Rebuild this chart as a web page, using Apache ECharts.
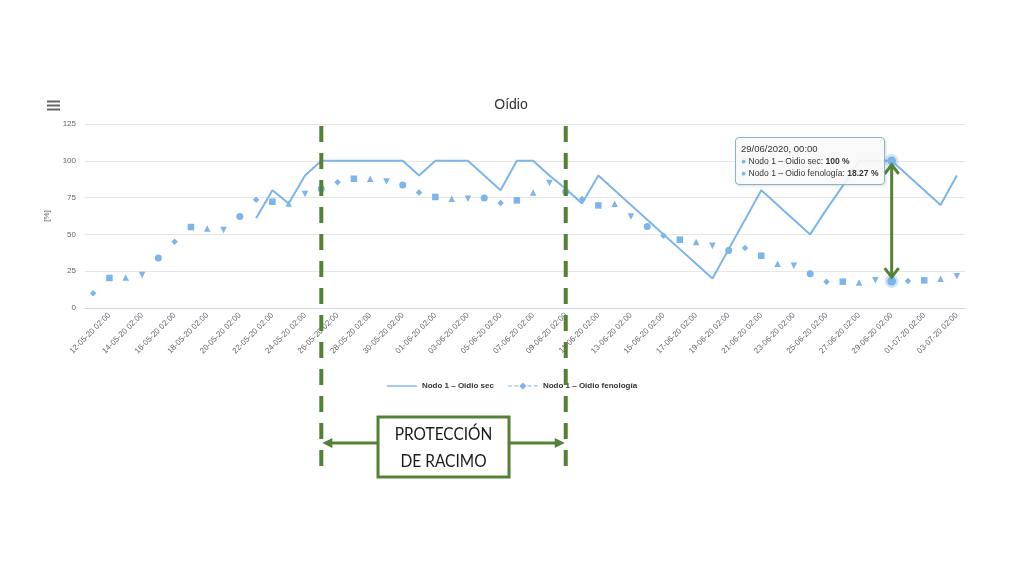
<!DOCTYPE html>
<html>
<head>
<meta charset="utf-8">
<script src="https://cdn.jsdelivr.net/npm/echarts@6.0.0/dist/echarts.min.js"></script>
<style>
  html, body { margin: 0; padding: 0; background: #ffffff; }
  #chart { width: 1024px; height: 576px; }
</style>
</head>
<body>
<div id="chart"></div>
<script>
// ---------- data ----------
const categories = [
  '11-05-20','12-05-20','13-05-20','14-05-20','15-05-20','16-05-20','17-05-20','18-05-20','19-05-20','20-05-20',
  '21-05-20','22-05-20','23-05-20','24-05-20','25-05-20','26-05-20','27-05-20','28-05-20','29-05-20','30-05-20',
  '31-05-20','01-06-20','02-06-20','03-06-20','04-06-20','05-06-20','06-06-20','07-06-20','08-06-20','09-06-20',
  '10-06-20','11-06-20','12-06-20','13-06-20','14-06-20','15-06-20','16-06-20','17-06-20','18-06-20','19-06-20',
  '20-06-20','21-06-20','22-06-20','23-06-20','24-06-20','25-06-20','26-06-20','27-06-20','28-06-20','29-06-20',
  '30-06-20','01-07-20','02-07-20','03-07-20'
];
const oidioSec = [
  null, null, null, null, null, null, null, null, null, null,
  61, 80, 71, 90, 100, 100, 100, 100, 100, 100,
  90, 100, 100, 100, 90, 80, 100, 100, 90, 81,
  71, 90, 80, 70, 60, 50, 40, 30, 20, 40,
  60, 80, 70, 60, 50, 67, 83, 100, 100, 100,
  90, 80, 70, 90
];
const oidioFenologia = [
  10, 20.4, 20.8, 22.4, 34, 45, 55, 54, 53, 62.2,
  73.6, 72.2, 71, 77.4, 81, 85.5, 87.8, 87.8, 86, 83.5,
  78.5, 75.4, 74.3, 74.3, 74.7, 71.3, 73.1, 78.5, 84.9, 79,
  74, 69.7, 70.9, 62.2, 55.4, 49.1, 46.4, 44.8, 42.3, 39.1,
  40.7, 35.5, 30.1, 28.7, 23.3, 17.9, 17.9, 17.4, 18.8, 18.27,
  18.3, 18.8, 19.9, 21.5
];
const seriesNames = ['Nodo 1 \u2013 Oidio sec', 'Nodo 1 \u2013 Oidio fenolog\u00eda'];
const yTicks = [0, 25, 50, 75, 100, 125];
const protectionStart = '25-05-20';
const protectionEnd = '09-06-20';
const protectionLabel = ['PROTECCI\u00d3N', 'DE RACIMO'];
const highlightDate = '29-06-20';

// ---------- styles ----------
const blue = '#7cb5ec';
const green = '#548235';
const font = 'Liberation Sans';
const markerCycle = [
  { symbol: 'diamond', size: 6.5, rotate: 0 },
  { symbol: 'rect', size: 6.5, rotate: 0 },
  { symbol: 'triangle', size: 6.5, rotate: 0 },
  { symbol: 'triangle', size: 6.5, rotate: 180 },
  { symbol: 'circle', size: 7, rotate: 0 }
];
const hiIdx = categories.indexOf(highlightDate);
const halo = { color: blue, borderColor: 'rgba(124,181,236,0.35)', borderWidth: 5 };

const secData = oidioSec.map((v, i) => i === hiIdx
  ? { value: v, symbol: 'circle', symbolSize: 8, itemStyle: halo }
  : v);
const fenData = oidioFenologia.map((v, i) => {
  const m = markerCycle[i % markerCycle.length];
  if (i === hiIdx) {
    return { value: v, symbol: 'circle', symbolSize: 9, itemStyle: halo };
  }
  return { value: v, symbol: m.symbol, symbolSize: m.size, symbolRotate: m.rotate };
});

const chart = echarts.init(document.getElementById('chart'), null, { renderer: 'canvas' });

function fmtHeader(cat) {
  const p = cat.split('-');
  return p[0] + '/' + p[1] + '/20' + p[2] + ', 00:00';
}

const option = {
  animation: false,
  backgroundColor: '#ffffff',
  textStyle: { fontFamily: font },
  title: {
    text: 'O\u00eddio',
    left: 506,
    textAlign: 'center',
    top: 93,
    textStyle: { fontSize: 14, fontWeight: 'normal', color: '#333333', fontFamily: font }
  },
  grid: { left: 85, right: 59, top: 124, bottom: 268, containLabel: false },
  legend: {
    top: 377,
    left: 'center',
    itemWidth: 30,
    itemHeight: 9,
    itemGap: 14,
    textStyle: { fontSize: 8, fontWeight: 'bold', color: '#333333', fontFamily: font },
    data: [
      { name: seriesNames[0], icon: 'path://M0 4h30v1.4h-30z' },
      { name: seriesNames[1], icon: 'path://M0 4h4v1.2h-4z M6.5 4h4v1.2h-4z M19.5 4h4v1.2h-4z M26 4h4v1.2h-4z M15 1L18.5 4.6L15 8.2L11.5 4.6z' }
    ]
  },
  tooltip: {
    trigger: 'axis',
    triggerOn: 'none',
    alwaysShowContent: true,
    transitionDuration: 0,
    axisPointer: { type: 'none' },
    position: [735, 137],
    backgroundColor: 'rgba(248,248,248,0.92)',
    borderColor: '#84b6c6',
    borderWidth: 1.5,
    padding: [5, 6, 5, 5],
    extraCssText: 'border-radius:4px;box-shadow:1px 1px 3px rgba(0,0,0,0.15);',
    textStyle: { fontFamily: font, fontSize: 9, color: '#333333' },
    formatter: function (params) {
      const idx = params[0].dataIndex;
      let html = '<div style="font-size:9.5px;line-height:12px;color:#333">' + fmtHeader(categories[idx]) + '</div>';
      params.forEach(function (p) {
        const v = Array.isArray(p.value) ? p.value[1] : p.value;
        html += '<div style="font-size:8.5px;line-height:12px;color:#333;white-space:nowrap">' +
          '<span style="color:' + blue + '">\u25CF</span> ' + p.seriesName + ': <b>' + v + ' %</b></div>';
      });
      return html;
    }
  },
  xAxis: {
    type: 'category',
    data: categories,
    boundaryGap: true,
    axisLine: { lineStyle: { color: '#ccd6eb', width: 1 } },
    axisTick: {
      alignWithLabel: true,
      length: 6,
      interval: function (i) { return i % 2 === 1; },
      lineStyle: { color: '#ccd6eb' }
    },
    axisLabel: {
      rotate: 45,
      interval: function (i) { return i % 2 === 1; },
      fontSize: 8,
      color: '#666666',
      margin: 6,
      fontFamily: font,
      formatter: function (v) { return v + ' 02:00'; }
    },
    splitLine: { show: false }
  },
  yAxis: {
    type: 'value',
    min: yTicks[0],
    max: yTicks[yTicks.length - 1],
    interval: yTicks[1] - yTicks[0],
    name: '[%]',
    nameLocation: 'middle',
    nameGap: 34,
    nameRotate: 90,
    nameTextStyle: { fontSize: 8, color: '#666666', fontFamily: font },
    axisLine: { show: false },
    axisTick: { show: false },
    axisLabel: { fontSize: 8, color: '#666666', margin: 9, fontFamily: font },
    splitLine: { lineStyle: { color: '#e6e6e6', width: 1 } }
  },
  series: [
    {
      name: seriesNames[0],
      type: 'line',
      data: secData,
      symbol: 'none',
      showSymbol: true,
      showAllSymbol: true,
      connectNulls: false,
      lineStyle: { color: blue, width: 2 },
      itemStyle: { color: blue },
      emphasis: { disabled: true },
      z: 3
    },
    {
      name: seriesNames[1],
      type: 'scatter',
      data: fenData,
      itemStyle: { color: blue, opacity: 1 },
      emphasis: { disabled: true },
      z: 4
    }
  ]
};

chart.setOption(option);

// ---------- annotations positioned from the axes ----------
function px(cat, val) {
  return chart.convertToPixel({ xAxisIndex: 0, yAxisIndex: 0 }, [cat, val]);
}
const xs = px(protectionStart, 0)[0];
const xe = px(protectionEnd, 0)[0];
const yTop = px(protectionStart, yTicks[yTicks.length - 1])[1] + 2;
const yBottom = 476;
const cx = (xs + xe) / 2;
const boxW = 131, boxH = 60, boxY = 417;
const arrowY = 443;
const hiTop = px(highlightDate, oidioSec[hiIdx]);
const hiBot = px(highlightDate, oidioFenologia[hiIdx]);

const graphics = [
  // hamburger menu
  { type: 'rect', shape: { x: 47, y: 100.5, width: 13, height: 2 }, style: { fill: '#666666' } },
  { type: 'rect', shape: { x: 47, y: 104.5, width: 13, height: 2 }, style: { fill: '#666666' } },
  { type: 'rect', shape: { x: 47, y: 108.5, width: 13, height: 2 }, style: { fill: '#666666' } },
  // dashed boundaries
  { type: 'line', z: 100, shape: { x1: xs, y1: yTop, x2: xs, y2: yBottom }, style: { stroke: green, lineWidth: 4, lineDash: [16, 11] } },
  { type: 'line', z: 100, shape: { x1: xe, y1: yTop, x2: xe, y2: yBottom }, style: { stroke: green, lineWidth: 4, lineDash: [16, 11] } },
  // horizontal arrows
  { type: 'line', z: 100, shape: { x1: cx - boxW / 2, y1: arrowY, x2: xs + 8, y2: arrowY }, style: { stroke: green, lineWidth: 3 } },
  { type: 'polygon', z: 101, shape: { points: [[xs + 1, arrowY], [xs + 11, arrowY - 5], [xs + 11, arrowY + 5]] }, style: { fill: green } },
  { type: 'line', z: 100, shape: { x1: cx + boxW / 2, y1: arrowY, x2: xe - 8, y2: arrowY }, style: { stroke: green, lineWidth: 3 } },
  { type: 'polygon', z: 101, shape: { points: [[xe - 1, arrowY], [xe - 11, arrowY - 5], [xe - 11, arrowY + 5]] }, style: { fill: green } },
  // label box
  { type: 'rect', z: 102, shape: { x: cx - boxW / 2, y: boxY, width: boxW, height: boxH }, style: { fill: '#ffffff', stroke: green, lineWidth: 3 } },
  { type: 'text', z: 103, x: cx, y: boxY + 17, scaleX: 0.86, style: { text: protectionLabel[0], font: '18px Lato', fill: '#1a1a1a', align: 'center', verticalAlign: 'middle' } },
  { type: 'text', z: 103, x: cx, y: boxY + 44, scaleX: 0.86, style: { text: protectionLabel[1], font: '18px Lato', fill: '#1a1a1a', align: 'center', verticalAlign: 'middle' } },
  // vertical double arrow at highlighted date
  { type: 'line', z: 100, shape: { x1: hiTop[0], y1: hiTop[1] + 4, x2: hiBot[0], y2: hiBot[1] - 4 }, style: { stroke: green, lineWidth: 3 } },
  { type: 'polyline', z: 100, shape: { points: [[hiTop[0] - 7, hiTop[1] + 13], [hiTop[0], hiTop[1] + 4], [hiTop[0] + 7, hiTop[1] + 13]] }, style: { stroke: green, lineWidth: 3, fill: null } },
  { type: 'polyline', z: 100, shape: { points: [[hiBot[0] - 7, hiBot[1] - 13], [hiBot[0], hiBot[1] - 4], [hiBot[0] + 7, hiBot[1] - 13]] }, style: { stroke: green, lineWidth: 3, fill: null } }
];
chart.setOption({ graphic: graphics });

chart.dispatchAction({ type: 'showTip', seriesIndex: 0, dataIndex: hiIdx });
</script>
</body>
</html>
